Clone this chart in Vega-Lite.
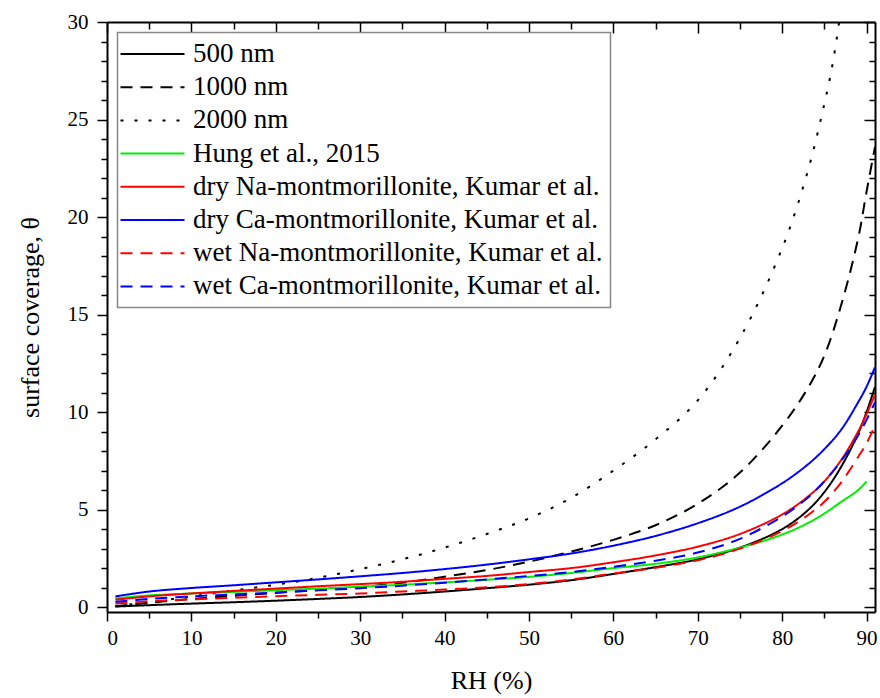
{
  "$schema": "https://vega.github.io/schema/vega-lite/v6.json",
  "width": 768,
  "height": 590,
  "autosize": {"type": "none"},
  "padding": {"left": 107, "top": 22, "right": 5, "bottom": 86},
  "background": "white",
  "config": {
    "font": "'Liberation Serif', 'Times New Roman', serif",
    "view": {"stroke": null},
    "style": {
      "guide-label": {"font": "'Liberation Serif', 'Times New Roman', serif", "fill": "black"},
      "guide-title": {"font": "'Liberation Serif', 'Times New Roman', serif", "fill": "black", "fontWeight": "normal"}
    },
    "axis": {
      "domainColor": "black", "domainWidth": 2, "tickColor": "black", "tickWidth": 1.5,
      "labelColor": "black", "labelFont": "'Liberation Serif', 'Times New Roman', serif", "labelFontSize": 21,
      "titleFont": "'Liberation Serif', 'Times New Roman', serif", "titleFontSize": 26, "titleFontWeight": "normal", "titleColor": "black",
      "grid": false
    },
    "legend": {
      "orient": "none", "legendX": 10.5, "legendY": 10.5,
      "title": null,
      "strokeColor": "#888888", "strokeWidth": 1.5, "fillColor": "white",
      "padding": 8, "labelFont": "'Liberation Serif', 'Times New Roman', serif", "labelFontSize": 27, "labelColor": "black",
      "symbolType": "M-4,0H4", "symbolSize": 256, "symbolStrokeWidth": 2,
      "symbolOffset": 13.5, "labelOffset": 27, "rowPadding": 5.2, "labelLimit": 600
    }
  },
  "data": {"values": [
    {"s":"500 nm","x":1,"y":0.03},{"s":"500 nm","x":5,"y":0.1},{"s":"500 nm","x":10,"y":0.18},{"s":"500 nm","x":15,"y":0.25},{"s":"500 nm","x":20,"y":0.33},{"s":"500 nm","x":25,"y":0.42},{"s":"500 nm","x":30,"y":0.52},{"s":"500 nm","x":35,"y":0.65},{"s":"500 nm","x":40,"y":0.8},{"s":"500 nm","x":45,"y":0.97},{"s":"500 nm","x":50,"y":1.15},{"s":"500 nm","x":55,"y":1.38},{"s":"500 nm","x":60,"y":1.7},{"s":"500 nm","x":65,"y":2.05},{"s":"500 nm","x":70,"y":2.45},{"s":"500 nm","x":75,"y":3.05},{"s":"500 nm","x":80,"y":4.0},{"s":"500 nm","x":83,"y":4.95},{"s":"500 nm","x":85,"y":5.9},{"s":"500 nm","x":87,"y":7.2},{"s":"500 nm","x":89,"y":8.9},{"s":"500 nm","x":90,"y":10.0},{"s":"500 nm","x":91,"y":11.3},
    {"s":"1000 nm","x":1,"y":0.05},{"s":"1000 nm","x":5,"y":0.22},{"s":"1000 nm","x":10,"y":0.42},{"s":"1000 nm","x":15,"y":0.58},{"s":"1000 nm","x":20,"y":0.73},{"s":"1000 nm","x":25,"y":0.88},{"s":"1000 nm","x":30,"y":1.03},{"s":"1000 nm","x":35,"y":1.25},{"s":"1000 nm","x":40,"y":1.56},{"s":"1000 nm","x":45,"y":1.9},{"s":"1000 nm","x":50,"y":2.33},{"s":"1000 nm","x":55,"y":2.85},{"s":"1000 nm","x":60,"y":3.45},{"s":"1000 nm","x":65,"y":4.2},{"s":"1000 nm","x":70,"y":5.3},{"s":"1000 nm","x":75,"y":6.9},{"s":"1000 nm","x":80,"y":9.3},{"s":"1000 nm","x":83,"y":11.2},{"s":"1000 nm","x":85,"y":12.9},{"s":"1000 nm","x":87,"y":15.5},{"s":"1000 nm","x":89,"y":18.9},{"s":"1000 nm","x":90,"y":21.3},{"s":"1000 nm","x":91,"y":23.6},
    {"s":"2000 nm","x":1,"y":0.05},{"s":"2000 nm","x":5,"y":0.25},{"s":"2000 nm","x":10,"y":0.55},{"s":"2000 nm","x":15,"y":0.85},{"s":"2000 nm","x":20,"y":1.15},{"s":"2000 nm","x":25,"y":1.5},{"s":"2000 nm","x":30,"y":1.95},{"s":"2000 nm","x":35,"y":2.45},{"s":"2000 nm","x":40,"y":3.05},{"s":"2000 nm","x":45,"y":3.75},{"s":"2000 nm","x":50,"y":4.55},{"s":"2000 nm","x":55,"y":5.6},{"s":"2000 nm","x":60,"y":7.0},{"s":"2000 nm","x":65,"y":8.6},{"s":"2000 nm","x":70,"y":10.6},{"s":"2000 nm","x":75,"y":13.8},{"s":"2000 nm","x":80,"y":18.4},{"s":"2000 nm","x":83,"y":22.3},{"s":"2000 nm","x":85,"y":25.8},{"s":"2000 nm","x":86,"y":27.9},{"s":"2000 nm","x":86.75,"y":30},
    {"s":"Hung et al., 2015","x":1,"y":0.45},{"s":"Hung et al., 2015","x":5,"y":0.6},{"s":"Hung et al., 2015","x":10,"y":0.7},{"s":"Hung et al., 2015","x":15,"y":0.78},{"s":"Hung et al., 2015","x":20,"y":0.87},{"s":"Hung et al., 2015","x":25,"y":0.95},{"s":"Hung et al., 2015","x":30,"y":1.05},{"s":"Hung et al., 2015","x":35,"y":1.15},{"s":"Hung et al., 2015","x":40,"y":1.27},{"s":"Hung et al., 2015","x":45,"y":1.4},{"s":"Hung et al., 2015","x":50,"y":1.55},{"s":"Hung et al., 2015","x":55,"y":1.75},{"s":"Hung et al., 2015","x":60,"y":2.0},{"s":"Hung et al., 2015","x":65,"y":2.22},{"s":"Hung et al., 2015","x":70,"y":2.55},{"s":"Hung et al., 2015","x":75,"y":3.05},{"s":"Hung et al., 2015","x":80,"y":3.72},{"s":"Hung et al., 2015","x":83,"y":4.3},{"s":"Hung et al., 2015","x":85,"y":4.8},{"s":"Hung et al., 2015","x":87,"y":5.4},{"s":"Hung et al., 2015","x":89,"y":6.0},{"s":"Hung et al., 2015","x":90,"y":6.45},
    {"s":"dry Na-montmorillonite, Kumar et al.","x":1,"y":0.38},{"s":"dry Na-montmorillonite, Kumar et al.","x":5,"y":0.55},{"s":"dry Na-montmorillonite, Kumar et al.","x":10,"y":0.7},{"s":"dry Na-montmorillonite, Kumar et al.","x":15,"y":0.83},{"s":"dry Na-montmorillonite, Kumar et al.","x":20,"y":0.95},{"s":"dry Na-montmorillonite, Kumar et al.","x":25,"y":1.07},{"s":"dry Na-montmorillonite, Kumar et al.","x":30,"y":1.18},{"s":"dry Na-montmorillonite, Kumar et al.","x":35,"y":1.3},{"s":"dry Na-montmorillonite, Kumar et al.","x":40,"y":1.45},{"s":"dry Na-montmorillonite, Kumar et al.","x":45,"y":1.6},{"s":"dry Na-montmorillonite, Kumar et al.","x":50,"y":1.8},{"s":"dry Na-montmorillonite, Kumar et al.","x":55,"y":2.0},{"s":"dry Na-montmorillonite, Kumar et al.","x":60,"y":2.3},{"s":"dry Na-montmorillonite, Kumar et al.","x":65,"y":2.65},{"s":"dry Na-montmorillonite, Kumar et al.","x":70,"y":3.1},{"s":"dry Na-montmorillonite, Kumar et al.","x":75,"y":3.75},{"s":"dry Na-montmorillonite, Kumar et al.","x":80,"y":4.75},{"s":"dry Na-montmorillonite, Kumar et al.","x":83,"y":5.65},{"s":"dry Na-montmorillonite, Kumar et al.","x":85,"y":6.45},{"s":"dry Na-montmorillonite, Kumar et al.","x":87,"y":7.55},{"s":"dry Na-montmorillonite, Kumar et al.","x":89,"y":9.0},{"s":"dry Na-montmorillonite, Kumar et al.","x":90,"y":9.9},{"s":"dry Na-montmorillonite, Kumar et al.","x":91,"y":10.9},
    {"s":"dry Ca-montmorillonite, Kumar et al.","x":1,"y":0.55},{"s":"dry Ca-montmorillonite, Kumar et al.","x":5,"y":0.8},{"s":"dry Ca-montmorillonite, Kumar et al.","x":10,"y":0.98},{"s":"dry Ca-montmorillonite, Kumar et al.","x":15,"y":1.12},{"s":"dry Ca-montmorillonite, Kumar et al.","x":20,"y":1.27},{"s":"dry Ca-montmorillonite, Kumar et al.","x":25,"y":1.42},{"s":"dry Ca-montmorillonite, Kumar et al.","x":30,"y":1.58},{"s":"dry Ca-montmorillonite, Kumar et al.","x":35,"y":1.75},{"s":"dry Ca-montmorillonite, Kumar et al.","x":40,"y":1.95},{"s":"dry Ca-montmorillonite, Kumar et al.","x":45,"y":2.18},{"s":"dry Ca-montmorillonite, Kumar et al.","x":50,"y":2.45},{"s":"dry Ca-montmorillonite, Kumar et al.","x":55,"y":2.75},{"s":"dry Ca-montmorillonite, Kumar et al.","x":60,"y":3.15},{"s":"dry Ca-montmorillonite, Kumar et al.","x":65,"y":3.65},{"s":"dry Ca-montmorillonite, Kumar et al.","x":70,"y":4.3},{"s":"dry Ca-montmorillonite, Kumar et al.","x":75,"y":5.15},{"s":"dry Ca-montmorillonite, Kumar et al.","x":80,"y":6.35},{"s":"dry Ca-montmorillonite, Kumar et al.","x":83,"y":7.3},{"s":"dry Ca-montmorillonite, Kumar et al.","x":85,"y":8.1},{"s":"dry Ca-montmorillonite, Kumar et al.","x":87,"y":9.1},{"s":"dry Ca-montmorillonite, Kumar et al.","x":89,"y":10.5},{"s":"dry Ca-montmorillonite, Kumar et al.","x":90,"y":11.3},{"s":"dry Ca-montmorillonite, Kumar et al.","x":91,"y":12.3},
    {"s":"wet Na-montmorillonite, Kumar et al.","x":1,"y":0.18},{"s":"wet Na-montmorillonite, Kumar et al.","x":5,"y":0.3},{"s":"wet Na-montmorillonite, Kumar et al.","x":10,"y":0.4},{"s":"wet Na-montmorillonite, Kumar et al.","x":15,"y":0.48},{"s":"wet Na-montmorillonite, Kumar et al.","x":20,"y":0.56},{"s":"wet Na-montmorillonite, Kumar et al.","x":25,"y":0.63},{"s":"wet Na-montmorillonite, Kumar et al.","x":30,"y":0.7},{"s":"wet Na-montmorillonite, Kumar et al.","x":35,"y":0.8},{"s":"wet Na-montmorillonite, Kumar et al.","x":40,"y":0.9},{"s":"wet Na-montmorillonite, Kumar et al.","x":45,"y":1.02},{"s":"wet Na-montmorillonite, Kumar et al.","x":50,"y":1.18},{"s":"wet Na-montmorillonite, Kumar et al.","x":55,"y":1.42},{"s":"wet Na-montmorillonite, Kumar et al.","x":60,"y":1.72},{"s":"wet Na-montmorillonite, Kumar et al.","x":65,"y":2.02},{"s":"wet Na-montmorillonite, Kumar et al.","x":70,"y":2.4},{"s":"wet Na-montmorillonite, Kumar et al.","x":75,"y":3.0},{"s":"wet Na-montmorillonite, Kumar et al.","x":80,"y":3.9},{"s":"wet Na-montmorillonite, Kumar et al.","x":83,"y":4.7},{"s":"wet Na-montmorillonite, Kumar et al.","x":85,"y":5.4},{"s":"wet Na-montmorillonite, Kumar et al.","x":87,"y":6.4},{"s":"wet Na-montmorillonite, Kumar et al.","x":89,"y":7.7},{"s":"wet Na-montmorillonite, Kumar et al.","x":90,"y":8.4},{"s":"wet Na-montmorillonite, Kumar et al.","x":91,"y":9.3},
    {"s":"wet Ca-montmorillonite, Kumar et al.","x":1,"y":0.28},{"s":"wet Ca-montmorillonite, Kumar et al.","x":5,"y":0.42},{"s":"wet Ca-montmorillonite, Kumar et al.","x":10,"y":0.55},{"s":"wet Ca-montmorillonite, Kumar et al.","x":15,"y":0.65},{"s":"wet Ca-montmorillonite, Kumar et al.","x":20,"y":0.75},{"s":"wet Ca-montmorillonite, Kumar et al.","x":25,"y":0.86},{"s":"wet Ca-montmorillonite, Kumar et al.","x":30,"y":0.97},{"s":"wet Ca-montmorillonite, Kumar et al.","x":35,"y":1.1},{"s":"wet Ca-montmorillonite, Kumar et al.","x":40,"y":1.25},{"s":"wet Ca-montmorillonite, Kumar et al.","x":45,"y":1.42},{"s":"wet Ca-montmorillonite, Kumar et al.","x":50,"y":1.6},{"s":"wet Ca-montmorillonite, Kumar et al.","x":55,"y":1.8},{"s":"wet Ca-montmorillonite, Kumar et al.","x":60,"y":2.07},{"s":"wet Ca-montmorillonite, Kumar et al.","x":65,"y":2.38},{"s":"wet Ca-montmorillonite, Kumar et al.","x":70,"y":2.8},{"s":"wet Ca-montmorillonite, Kumar et al.","x":75,"y":3.5},{"s":"wet Ca-montmorillonite, Kumar et al.","x":80,"y":4.65},{"s":"wet Ca-montmorillonite, Kumar et al.","x":83,"y":5.6},{"s":"wet Ca-montmorillonite, Kumar et al.","x":85,"y":6.45},{"s":"wet Ca-montmorillonite, Kumar et al.","x":87,"y":7.5},{"s":"wet Ca-montmorillonite, Kumar et al.","x":89,"y":8.8},{"s":"wet Ca-montmorillonite, Kumar et al.","x":90,"y":9.6},{"s":"wet Ca-montmorillonite, Kumar et al.","x":91,"y":10.5}
  ]},
  "layer": [
    {
      "mark": {"type": "line", "strokeWidth": 2, "interpolate": "catmull-rom", "clip": true},
      "encoding": {
        "x": {"field": "x", "type": "quantitative", "scale": {"domain": [0, 91], "nice": false, "zero": false},
          "axis": {"orient": "bottom", "values": [0,10,20,30,40,50,60,70,80,90], "tickSize": 9, "labelPadding": 6, "title": "RH (%)", "titlePadding": 19, "domainWidth": 2,
            "labelFont": "'Liberation Serif', 'Times New Roman', serif", "titleFont": "'Liberation Serif', 'Times New Roman', serif", "labelFontSize": 21, "titleFontSize": 26}},
        "y": {"field": "y", "type": "quantitative", "scale": {"domain": [-0.25, 30], "nice": false, "zero": false},
          "axis": {"orient": "left", "values": [0,5,10,15,20,25,30], "tickSize": 10, "labelPadding": 9, "title": "surface coverage, θ", "titlePadding": 24,
            "labelFont": "'Liberation Serif', 'Times New Roman', serif", "titleFont": "'Liberation Serif', 'Times New Roman', serif", "labelFontSize": 21, "titleFontSize": 26}},
        "color": {"field": "s", "type": "nominal",
          "scale": {"domain": ["500 nm","1000 nm","2000 nm","Hung et al., 2015","dry Na-montmorillonite, Kumar et al.","dry Ca-montmorillonite, Kumar et al.","wet Na-montmorillonite, Kumar et al.","wet Ca-montmorillonite, Kumar et al."],
            "range": ["#000000","#000000","#000000","#00ee00","#ff0000","#0000ff","#ff0000","#0000ff"]},
          "legend": {"title": null}},
        "strokeDash": {"field": "s", "type": "nominal",
          "scale": {"domain": ["500 nm","1000 nm","2000 nm","Hung et al., 2015","dry Na-montmorillonite, Kumar et al.","dry Ca-montmorillonite, Kumar et al.","wet Na-montmorillonite, Kumar et al.","wet Ca-montmorillonite, Kumar et al."],
            "range": [[1,0],[12,8],[3,11],[1,0],[1,0],[1,0],[12,8],[12,8]]},
          "legend": {"title": null}}
      }
    },
    {
      "mark": {"type": "line", "opacity": 0},
      "encoding": {
        "x": {"field": "x", "type": "quantitative", "axis": {"orient": "bottom", "values": [5,15,25,35,45,55,65,75,85], "tickSize": 6, "labels": false, "domain": false, "title": null}},
        "y": {"field": "y", "type": "quantitative", "axis": {"orient": "left", "values": [1,2,3,4,6,7,8,9,11,12,13,14,16,17,18,19,21,22,23,24,26,27,28,29], "tickSize": 6, "labels": false, "domain": false, "title": null}},
        "detail": {"field": "s"}
      }
    },
    {
      "mark": {"type": "line", "opacity": 0},
      "encoding": {
        "x": {"field": "x", "type": "quantitative", "axis": {"orient": "top", "values": [0,10,20,30,40,50,60,70,80,90], "tickSize": -11, "labels": false, "title": null}},
        "y": {"field": "y", "type": "quantitative", "axis": {"orient": "right", "values": [0,5,10,15,20,25,30], "tickSize": -11, "labels": false, "title": null}},
        "detail": {"field": "s"}
      }
    },
    {
      "mark": {"type": "line", "opacity": 0},
      "encoding": {
        "x": {"field": "x", "type": "quantitative", "axis": {"orient": "top", "values": [5,15,25,35,45,55,65,75,85], "tickSize": -7, "labels": false, "domain": false, "title": null}},
        "y": {"field": "y", "type": "quantitative", "axis": {"orient": "right", "values": [1,2,3,4,6,7,8,9,11,12,13,14,16,17,18,19,21,22,23,24,26,27,28,29], "tickSize": -6, "labels": false, "domain": false, "title": null}},
        "detail": {"field": "s"}
      }
    }
  ],
  "resolve": {"axis": {"x": "independent", "y": "independent"}}
}
